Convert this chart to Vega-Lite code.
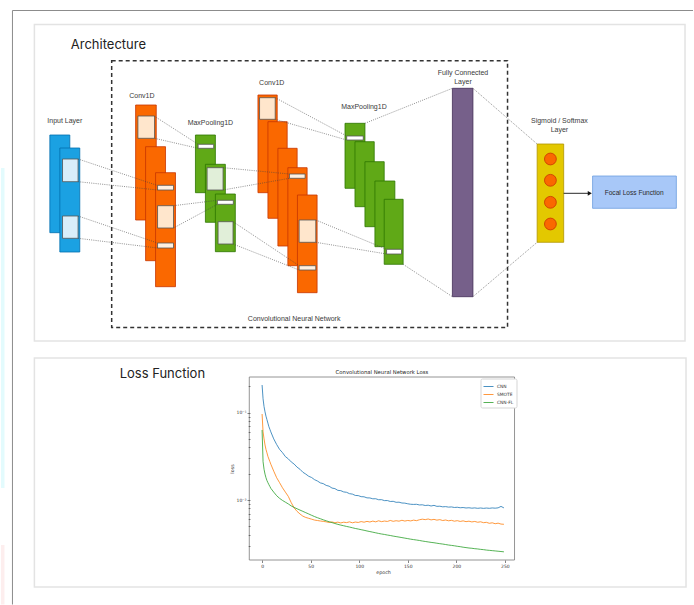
{
  "$schema": "https://vega.github.io/schema/vega-lite/v6.json",
  "width": 694,
  "height": 605,
  "autosize": {"type": "fit", "contains": "padding"},
  "padding": 0,
  "background": "white",
  "config": {"view": {"stroke": null}},
  "datasets": {
    "panels": [
      {"x": 33.5, "x2": 686, "y": 24.5, "y2": 341},
      {"x": 33.5, "x2": 687, "y": 358, "y2": 587}
    ],
    "cnnbox": [
      {"x": 111, "x2": 508, "y": 60.7, "y2": 327.5}
    ],
    "shapes": [
      {"k": "cyan", "x": 0, "x2": 3.5, "y": 168, "y2": 488},
      {"k": "pink", "x": 0, "x2": 3.5, "y": 545, "y2": 604.5},
      {"k": "input", "x": 49, "x2": 69, "y": 135, "y2": 232.7},
      {"k": "input", "x": 59, "x2": 79, "y": 148, "y2": 252},
      {"k": "inBox", "x": 61.7, "x2": 77.3, "y": 159, "y2": 181.7},
      {"k": "inBox", "x": 61.7, "x2": 77.3, "y": 216, "y2": 238.3},
      {"k": "conv", "x": 135, "x2": 155.7, "y": 105, "y2": 220},
      {"k": "convBox", "x": 137.3, "x2": 154, "y": 116, "y2": 138.3},
      {"k": "conv", "x": 145, "x2": 165, "y": 146.7, "y2": 260.7},
      {"k": "conv", "x": 155, "x2": 175, "y": 172.7, "y2": 286.7},
      {"k": "convSlot", "x": 157, "x2": 173, "y": 185.3, "y2": 190},
      {"k": "convBox", "x": 157, "x2": 173, "y": 205.7, "y2": 228},
      {"k": "convSlot", "x": 157, "x2": 173, "y": 243, "y2": 248},
      {"k": "pool", "x": 195, "x2": 215, "y": 135, "y2": 192.7},
      {"k": "poolSlot", "x": 197.7, "x2": 213.3, "y": 144.3, "y2": 148.3},
      {"k": "pool", "x": 205, "x2": 225, "y": 164.3, "y2": 222.3},
      {"k": "poolBox", "x": 206.7, "x2": 222.7, "y": 167.7, "y2": 190},
      {"k": "pool", "x": 215, "x2": 235, "y": 194, "y2": 251.7},
      {"k": "poolSlot", "x": 217, "x2": 233, "y": 200.3, "y2": 204.3},
      {"k": "poolBox", "x": 217.7, "x2": 232.7, "y": 221.7, "y2": 244},
      {"k": "conv", "x": 257.7, "x2": 277, "y": 95, "y2": 192.7},
      {"k": "convBox", "x": 259.3, "x2": 275, "y": 97.7, "y2": 119.3},
      {"k": "conv", "x": 267.7, "x2": 287, "y": 121.7, "y2": 218.3},
      {"k": "conv", "x": 277.7, "x2": 297, "y": 148.3, "y2": 246},
      {"k": "conv", "x": 287.7, "x2": 307, "y": 167.7, "y2": 265.7},
      {"k": "convSlot", "x": 289.3, "x2": 305, "y": 174, "y2": 178.3},
      {"k": "conv", "x": 297.3, "x2": 317, "y": 195, "y2": 292.7},
      {"k": "convBox", "x": 299, "x2": 315.7, "y": 220, "y2": 242.3},
      {"k": "convSlot", "x": 299, "x2": 315.7, "y": 265.7, "y2": 270},
      {"k": "pool", "x": 345, "x2": 365, "y": 123.3, "y2": 188.3},
      {"k": "poolSlot", "x": 346.7, "x2": 363.3, "y": 136, "y2": 140},
      {"k": "pool", "x": 355, "x2": 374.3, "y": 141.7, "y2": 206.7},
      {"k": "pool", "x": 365, "x2": 384.3, "y": 161.7, "y2": 226.7},
      {"k": "pool", "x": 375, "x2": 395, "y": 181, "y2": 246.7},
      {"k": "pool", "x": 384.3, "x2": 403.3, "y": 199.3, "y2": 264.3},
      {"k": "poolSlot", "x": 386.7, "x2": 401.7, "y": 249.3, "y2": 254},
      {"k": "fc", "x": 452.7, "x2": 473.3, "y": 88.3, "y2": 296.7},
      {"k": "sig", "x": 537.7, "x2": 564.3, "y": 144, "y2": 242.3},
      {"k": "focal", "x": 593.3, "x2": 677.3, "y": 176, "y2": 208.3},
      {"k": "frame", "x": 249, "x2": 515, "y": 377, "y2": 560}
    ],
    "links": [
      {"x": 77.3, "y": 159, "x2": 157, "y2": 185.5},
      {"x": 77.3, "y": 181.7, "x2": 157, "y2": 190},
      {"x": 77.3, "y": 216, "x2": 157, "y2": 243},
      {"x": 77.3, "y": 238.3, "x2": 157, "y2": 248},
      {"x": 154, "y": 116.3, "x2": 197.7, "y2": 144.3},
      {"x": 154, "y": 138.3, "x2": 197.7, "y2": 148.3},
      {"x": 173, "y": 205.7, "x2": 217, "y2": 200.3},
      {"x": 173, "y": 228, "x2": 217, "y2": 204.3},
      {"x": 222.7, "y": 167.7, "x2": 289.3, "y2": 174},
      {"x": 222.7, "y": 190, "x2": 289.3, "y2": 178.3},
      {"x": 232.7, "y": 221.7, "x2": 299, "y2": 265.7},
      {"x": 232.7, "y": 244, "x2": 299, "y2": 270},
      {"x": 275, "y": 97.7, "x2": 346.7, "y2": 136},
      {"x": 275, "y": 119.3, "x2": 346.7, "y2": 140},
      {"x": 315.7, "y": 220, "x2": 386.7, "y2": 249.3},
      {"x": 315.7, "y": 242.3, "x2": 386.7, "y2": 254},
      {"x": 365, "y": 123.3, "x2": 452.7, "y2": 88.3},
      {"x": 403.3, "y": 264.3, "x2": 452.7, "y2": 296.7},
      {"x": 473.3, "y": 88.3, "x2": 537.7, "y2": 144},
      {"x": 473.3, "y": 296.7, "x2": 537.7, "y2": 242.3}
    ],
    "arrow": [
      {"x": 564.3, "y": 193.3, "x2": 589.5, "y2": 193.3}
    ],
    "arrowhead": [
      {"x": 590.5, "y": 193.3}
    ],
    "dots": [
      {"x": 551, "y": 159},
      {"x": 551, "y": 180.3},
      {"x": 551, "y": 202.3},
      {"x": 551, "y": 224}
    ],
    "outer": [
      {"x": 11.5, "y": 10.5, "x2": 694, "y2": 10.5},
      {"x": 11.5, "y": 10.5, "x2": 11.5, "y2": 604.5}
    ],
    "texts": [
      {"x": 70, "y": 45, "text": "Architecture", "role": "h"},
      {"x": 119, "y": 374, "text": "Loss Function", "role": "h"},
      {"x": 64, "y": 120.7, "text": "Input Layer", "role": "l"},
      {"x": 141.3, "y": 96, "text": "Conv1D", "role": "l"},
      {"x": 210, "y": 123.3, "text": "MaxPooling1D", "role": "l"},
      {"x": 271.5, "y": 82.7, "text": "Conv1D", "role": "l"},
      {"x": 364, "y": 106.7, "text": "MaxPooling1D", "role": "l"},
      {"x": 463.3, "y": 72.7, "text": "Fully Connected", "role": "l"},
      {"x": 463.3, "y": 81.7, "text": "Layer", "role": "l"},
      {"x": 560, "y": 120.7, "text": "Sigmoid / Softmax", "role": "l"},
      {"x": 560, "y": 130, "text": "Layer", "role": "l"},
      {"x": 294, "y": 319, "text": "Convolutional Neural Network", "role": "l"},
      {"x": 635, "y": 192.7, "text": "Focal Loss Function", "role": "s"},
      {"x": 382, "y": 372, "text": "Convolutional Neural Network Loss", "role": "t"}
    ],
    "loss": [
      {"e": 0, "CNN": 0.2075, "SMOTE": 0.0966, "CNN-FL": 0.0634},
      {"e": 1, "CNN": 0.1445, "SMOTE": 0.0603, "CNN-FL": 0.0275},
      {"e": 2, "CNN": 0.1175, "SMOTE": 0.0501, "CNN-FL": 0.0225},
      {"e": 3, "CNN": 0.1023, "SMOTE": 0.0427, "CNN-FL": 0.0198},
      {"e": 4, "CNN": 0.0912, "SMOTE": 0.0380, "CNN-FL": 0.0180},
      {"e": 5, "CNN": 0.0832, "SMOTE": 0.0347, "CNN-FL": 0.0167},
      {"e": 6, "CNN": 0.0759, "SMOTE": 0.0316, "CNN-FL": 0.0158},
      {"e": 7, "CNN": 0.0692, "SMOTE": 0.0295, "CNN-FL": 0.0150},
      {"e": 8, "CNN": 0.0646, "SMOTE": 0.0275, "CNN-FL": 0.0143},
      {"e": 9, "CNN": 0.0603, "SMOTE": 0.0257, "CNN-FL": 0.0136},
      {"e": 12, "CNN": 0.0501, "SMOTE": 0.0214, "CNN-FL": 0.0123},
      {"e": 15, "CNN": 0.0432, "SMOTE": 0.0180, "CNN-FL": 0.0112},
      {"e": 18, "CNN": 0.0380, "SMOTE": 0.0158, "CNN-FL": 0.01045},
      {"e": 21, "CNN": 0.0349, "SMOTE": 0.0138, "CNN-FL": 0.00989},
      {"e": 24, "CNN": 0.0314, "SMOTE": 0.0123, "CNN-FL": 0.00944},
      {"e": 27, "CNN": 0.0296, "SMOTE": 0.0110, "CNN-FL": 0.00902},
      {"e": 30, "CNN": 0.0273, "SMOTE": 0.00933, "CNN-FL": 0.00855},
      {"e": 33, "CNN": 0.0258, "SMOTE": 0.00813, "CNN-FL": 0.00822},
      {"e": 36, "CNN": 0.0238, "SMOTE": 0.00741, "CNN-FL": 0.00794},
      {"e": 39, "CNN": 0.0225, "SMOTE": 0.00692, "CNN-FL": 0.00767},
      {"e": 42, "CNN": 0.0208, "SMOTE": 0.00653, "CNN-FL": 0.00741},
      {"e": 45, "CNN": 0.0198, "SMOTE": 0.00631, "CNN-FL": 0.00716},
      {"e": 48, "CNN": 0.0187, "SMOTE": 0.00617, "CNN-FL": 0.00692},
      {"e": 51, "CNN": 0.0181, "SMOTE": 0.00603, "CNN-FL": 0.00668},
      {"e": 54, "CNN": 0.0171, "SMOTE": 0.00589, "CNN-FL": 0.00646},
      {"e": 57, "CNN": 0.0165, "SMOTE": 0.00582, "CNN-FL": 0.00627},
      {"e": 60, "CNN": 0.0157, "SMOTE": 0.00575, "CNN-FL": 0.00610},
      {"e": 63, "CNN": 0.0154, "SMOTE": 0.00569, "CNN-FL": 0.00593},
      {"e": 66, "CNN": 0.0147, "SMOTE": 0.00562, "CNN-FL": 0.00578},
      {"e": 69, "CNN": 0.0144, "SMOTE": 0.00553, "CNN-FL": 0.00564},
      {"e": 72, "CNN": 0.0137, "SMOTE": 0.00561, "CNN-FL": 0.00551},
      {"e": 75, "CNN": 0.0135, "SMOTE": 0.00549, "CNN-FL": 0.00538},
      {"e": 78, "CNN": 0.0129, "SMOTE": 0.00558, "CNN-FL": 0.00526},
      {"e": 81, "CNN": 0.0128, "SMOTE": 0.00546, "CNN-FL": 0.00516},
      {"e": 84, "CNN": 0.01238, "SMOTE": 0.00557, "CNN-FL": 0.00507},
      {"e": 87, "CNN": 0.01225, "SMOTE": 0.00551, "CNN-FL": 0.00498},
      {"e": 90, "CNN": 0.01182, "SMOTE": 0.00562, "CNN-FL": 0.00490},
      {"e": 93, "CNN": 0.01168, "SMOTE": 0.00548, "CNN-FL": 0.00481},
      {"e": 96, "CNN": 0.01128, "SMOTE": 0.00559, "CNN-FL": 0.00472},
      {"e": 99, "CNN": 0.01123, "SMOTE": 0.00553, "CNN-FL": 0.00465},
      {"e": 102, "CNN": 0.01092, "SMOTE": 0.00566, "CNN-FL": 0.00457},
      {"e": 105, "CNN": 0.01088, "SMOTE": 0.00557, "CNN-FL": 0.00450},
      {"e": 108, "CNN": 0.01058, "SMOTE": 0.00569, "CNN-FL": 0.00442},
      {"e": 111, "CNN": 0.01056, "SMOTE": 0.00560, "CNN-FL": 0.00435},
      {"e": 114, "CNN": 0.01032, "SMOTE": 0.00573, "CNN-FL": 0.00428},
      {"e": 117, "CNN": 0.01034, "SMOTE": 0.00562, "CNN-FL": 0.00421},
      {"e": 120, "CNN": 0.01007, "SMOTE": 0.00578, "CNN-FL": 0.00414},
      {"e": 123, "CNN": 0.01009, "SMOTE": 0.00565, "CNN-FL": 0.00408},
      {"e": 126, "CNN": 0.00984, "SMOTE": 0.00574, "CNN-FL": 0.00403},
      {"e": 129, "CNN": 0.00986, "SMOTE": 0.00568, "CNN-FL": 0.00397},
      {"e": 132, "CNN": 0.00962, "SMOTE": 0.00583, "CNN-FL": 0.00392},
      {"e": 135, "CNN": 0.00966, "SMOTE": 0.00570, "CNN-FL": 0.00386},
      {"e": 138, "CNN": 0.00941, "SMOTE": 0.00579, "CNN-FL": 0.00381},
      {"e": 141, "CNN": 0.00944, "SMOTE": 0.00572, "CNN-FL": 0.00376},
      {"e": 144, "CNN": 0.00924, "SMOTE": 0.00586, "CNN-FL": 0.00371},
      {"e": 147, "CNN": 0.00921, "SMOTE": 0.00574, "CNN-FL": 0.00366},
      {"e": 150, "CNN": 0.00905, "SMOTE": 0.00583, "CNN-FL": 0.00361},
      {"e": 153, "CNN": 0.00894, "SMOTE": 0.00576, "CNN-FL": 0.00356},
      {"e": 156, "CNN": 0.00890, "SMOTE": 0.00588, "CNN-FL": 0.00352},
      {"e": 159, "CNN": 0.00893, "SMOTE": 0.00580, "CNN-FL": 0.00348},
      {"e": 162, "CNN": 0.00878, "SMOTE": 0.00594, "CNN-FL": 0.00344},
      {"e": 165, "CNN": 0.00881, "SMOTE": 0.00603, "CNN-FL": 0.00339},
      {"e": 168, "CNN": 0.00865, "SMOTE": 0.00596, "CNN-FL": 0.00335},
      {"e": 171, "CNN": 0.00872, "SMOTE": 0.00606, "CNN-FL": 0.00331},
      {"e": 174, "CNN": 0.00854, "SMOTE": 0.00592, "CNN-FL": 0.00327},
      {"e": 177, "CNN": 0.00868, "SMOTE": 0.00600, "CNN-FL": 0.00324},
      {"e": 180, "CNN": 0.00846, "SMOTE": 0.00588, "CNN-FL": 0.00320},
      {"e": 183, "CNN": 0.00849, "SMOTE": 0.00596, "CNN-FL": 0.00316},
      {"e": 186, "CNN": 0.00835, "SMOTE": 0.00582, "CNN-FL": 0.00313},
      {"e": 189, "CNN": 0.00840, "SMOTE": 0.00590, "CNN-FL": 0.00309},
      {"e": 192, "CNN": 0.00829, "SMOTE": 0.00578, "CNN-FL": 0.00305},
      {"e": 195, "CNN": 0.00833, "SMOTE": 0.00585, "CNN-FL": 0.00302},
      {"e": 198, "CNN": 0.00821, "SMOTE": 0.00572, "CNN-FL": 0.00299},
      {"e": 201, "CNN": 0.00826, "SMOTE": 0.00580, "CNN-FL": 0.00295},
      {"e": 204, "CNN": 0.00815, "SMOTE": 0.00568, "CNN-FL": 0.00292},
      {"e": 207, "CNN": 0.00820, "SMOTE": 0.00577, "CNN-FL": 0.00288},
      {"e": 210, "CNN": 0.00810, "SMOTE": 0.00565, "CNN-FL": 0.00285},
      {"e": 213, "CNN": 0.00815, "SMOTE": 0.00572, "CNN-FL": 0.00282},
      {"e": 216, "CNN": 0.00806, "SMOTE": 0.00561, "CNN-FL": 0.00280},
      {"e": 219, "CNN": 0.00812, "SMOTE": 0.00568, "CNN-FL": 0.00277},
      {"e": 222, "CNN": 0.00803, "SMOTE": 0.00556, "CNN-FL": 0.00275},
      {"e": 225, "CNN": 0.00810, "SMOTE": 0.00563, "CNN-FL": 0.00272},
      {"e": 228, "CNN": 0.00802, "SMOTE": 0.00550, "CNN-FL": 0.00270},
      {"e": 231, "CNN": 0.00809, "SMOTE": 0.00555, "CNN-FL": 0.00267},
      {"e": 234, "CNN": 0.00803, "SMOTE": 0.00541, "CNN-FL": 0.00265},
      {"e": 237, "CNN": 0.00811, "SMOTE": 0.00548, "CNN-FL": 0.00263},
      {"e": 240, "CNN": 0.00806, "SMOTE": 0.00535, "CNN-FL": 0.00261},
      {"e": 243, "CNN": 0.00813, "SMOTE": 0.00543, "CNN-FL": 0.00259},
      {"e": 246, "CNN": 0.00845, "SMOTE": 0.00530, "CNN-FL": 0.00257},
      {"e": 249, "CNN": 0.00812, "SMOTE": 0.00527, "CNN-FL": 0.00255}
    ]
  },
  "layer": [
    {
      "layer": [
        {
          "data": {"name": "panels"},
          "mark": {"type": "rect", "fill": "white", "stroke": "#e3e3e3", "strokeWidth": 1.5},
          "encoding": {
            "x": {"field": "x", "type": "quantitative", "scale": {"domain": [0, 694], "nice": false, "zero": false}, "axis": null},
            "x2": {"field": "x2"},
            "y": {"field": "y", "type": "quantitative", "scale": {"domain": [0, 605], "reverse": true, "nice": false, "zero": false}, "axis": null},
            "y2": {"field": "y2"}
          }
        },
        {
          "data": {"name": "cnnbox"},
          "mark": {"type": "rect", "fill": "transparent", "stroke": "#333333", "strokeWidth": 1.5, "strokeDash": [4, 3]},
          "encoding": {
            "x": {"field": "x", "type": "quantitative", "scale": {"domain": [0, 694], "nice": false, "zero": false}, "axis": null},
            "x2": {"field": "x2"},
            "y": {"field": "y", "type": "quantitative", "scale": {"domain": [0, 605], "reverse": true, "nice": false, "zero": false}, "axis": null},
            "y2": {"field": "y2"}
          }
        },
        {
          "data": {"name": "shapes"},
          "mark": {"type": "rect", "strokeWidth": 0.8},
          "encoding": {
            "x": {"field": "x", "type": "quantitative", "scale": {"domain": [0, 694], "nice": false, "zero": false}, "axis": null},
            "x2": {"field": "x2"},
            "y": {"field": "y", "type": "quantitative", "scale": {"domain": [0, 605], "reverse": true, "nice": false, "zero": false}, "axis": null},
            "y2": {"field": "y2"},
            "fill": {
              "field": "k", "type": "nominal", "legend": null,
              "scale": {
                "domain": ["cyan", "pink", "input", "inBox", "conv", "convBox", "convSlot", "pool", "poolBox", "poolSlot", "fc", "sig", "focal", "frame"],
                "range": ["#e3fbfd", "#fdeeee", "#1ba1e2", "#d8eefa", "#fa6800", "#ffe6cc", "#fff0e0", "#60a917", "#e1efd9", "#ffffff", "#76608a", "#e3c800", "#a8c8f8", "transparent"]
              }
            },
            "stroke": {
              "field": "k", "type": "nominal", "legend": null,
              "scale": {
                "domain": ["cyan", "pink", "input", "inBox", "conv", "convBox", "convSlot", "pool", "poolBox", "poolSlot", "fc", "sig", "focal", "frame"],
                "range": ["transparent", "transparent", "#006eaf", "#555555", "#c73500", "#555555", "#555555", "#2d7600", "#555555", "#555555", "#432d57", "#b09500", "#6c9ee0", "#7a7a7a"]
              }
            },
            "strokeDash": {
              "field": "k", "type": "nominal", "legend": null,
              "scale": {
                "domain": ["cyan", "pink", "input", "inBox", "conv", "convBox", "convSlot", "pool", "poolBox", "poolSlot", "fc", "sig", "focal", "frame"],
                "range": [[1, 0], [1, 0], [1, 0], [1.5, 1], [1, 0], [1.5, 1], [1.5, 1], [1, 0], [1.5, 1], [1.5, 1], [1, 0], [1, 0], [2, 1.5], [1, 0]]
              }
            }
          }
        },
        {
          "data": {"name": "links"},
          "mark": {"type": "rule", "stroke": "#444444", "strokeWidth": 0.7, "strokeDash": [1, 1.2], "opacity": 0.85},
          "encoding": {
            "x": {"field": "x", "type": "quantitative", "scale": {"domain": [0, 694], "nice": false, "zero": false}, "axis": null},
            "x2": {"field": "x2"},
            "y": {"field": "y", "type": "quantitative", "scale": {"domain": [0, 605], "reverse": true, "nice": false, "zero": false}, "axis": null},
            "y2": {"field": "y2"}
          }
        },
        {
          "data": {"name": "arrow"},
          "mark": {"type": "rule", "stroke": "#111111", "strokeWidth": 0.9},
          "encoding": {
            "x": {"field": "x", "type": "quantitative", "scale": {"domain": [0, 694], "nice": false, "zero": false}, "axis": null},
            "x2": {"field": "x2"},
            "y": {"field": "y", "type": "quantitative", "scale": {"domain": [0, 605], "reverse": true, "nice": false, "zero": false}, "axis": null},
            "y2": {"field": "y2"}
          }
        },
        {
          "data": {"name": "arrowhead"},
          "mark": {"type": "point", "shape": "triangle-right", "filled": true, "fill": "#111111", "size": 22, "opacity": 1},
          "encoding": {
            "x": {"field": "x", "type": "quantitative", "scale": {"domain": [0, 694], "nice": false, "zero": false}, "axis": null},
            "y": {"field": "y", "type": "quantitative", "scale": {"domain": [0, 605], "reverse": true, "nice": false, "zero": false}, "axis": null}
          }
        },
        {
          "data": {"name": "dots"},
          "mark": {"type": "point", "shape": "circle", "filled": true, "fill": "#fa6800", "stroke": "#c73500", "strokeWidth": 0.8, "size": 140, "opacity": 1},
          "encoding": {
            "x": {"field": "x", "type": "quantitative", "scale": {"domain": [0, 694], "nice": false, "zero": false}, "axis": null},
            "y": {"field": "y", "type": "quantitative", "scale": {"domain": [0, 605], "reverse": true, "nice": false, "zero": false}, "axis": null}
          }
        },
        {
          "data": {"name": "outer"},
          "mark": {"type": "rule", "stroke": "#8c8c8c", "strokeWidth": 1},
          "encoding": {
            "x": {"field": "x", "type": "quantitative", "scale": {"domain": [0, 694], "nice": false, "zero": false}, "axis": null},
            "x2": {"field": "x2"},
            "y": {"field": "y", "type": "quantitative", "scale": {"domain": [0, 605], "reverse": true, "nice": false, "zero": false}, "axis": null},
            "y2": {"field": "y2"}
          }
        },
        {
          "data": {"name": "texts"},
          "transform": [{"filter": "datum.role === 'h'"}],
          "mark": {"type": "text", "font": "Inter", "fontSize": 13, "fill": "#222222", "align": "left", "baseline": "middle"},
          "encoding": {
            "x": {"field": "x", "type": "quantitative", "scale": {"domain": [0, 694], "nice": false, "zero": false}, "axis": null},
            "y": {"field": "y", "type": "quantitative", "scale": {"domain": [0, 605], "reverse": true, "nice": false, "zero": false}, "axis": null},
            "text": {"field": "text"}
          }
        },
        {
          "data": {"name": "texts"},
          "transform": [{"filter": "datum.role === 'l'"}],
          "mark": {"type": "text", "font": "Liberation Sans", "fontSize": 7, "fill": "#3a3a3a", "align": "center", "baseline": "middle"},
          "encoding": {
            "x": {"field": "x", "type": "quantitative", "scale": {"domain": [0, 694], "nice": false, "zero": false}, "axis": null},
            "y": {"field": "y", "type": "quantitative", "scale": {"domain": [0, 605], "reverse": true, "nice": false, "zero": false}, "axis": null},
            "text": {"field": "text"}
          }
        },
        {
          "data": {"name": "texts"},
          "transform": [{"filter": "datum.role === 's'"}],
          "mark": {"type": "text", "font": "Liberation Sans", "fontSize": 6.6, "fill": "#2a2a2a", "align": "center", "baseline": "middle"},
          "encoding": {
            "x": {"field": "x", "type": "quantitative", "scale": {"domain": [0, 694], "nice": false, "zero": false}, "axis": null},
            "y": {"field": "y", "type": "quantitative", "scale": {"domain": [0, 605], "reverse": true, "nice": false, "zero": false}, "axis": null},
            "text": {"field": "text"}
          }
        },
        {
          "data": {"name": "texts"},
          "transform": [{"filter": "datum.role === 't'"}],
          "mark": {"type": "text", "font": "DejaVu Sans", "fontSize": 5.3, "fill": "#222222", "align": "center", "baseline": "middle"},
          "encoding": {
            "x": {"field": "x", "type": "quantitative", "scale": {"domain": [0, 694], "nice": false, "zero": false}, "axis": null},
            "y": {"field": "y", "type": "quantitative", "scale": {"domain": [0, 605], "reverse": true, "nice": false, "zero": false}, "axis": null},
            "text": {"field": "text"}
          }
        }
      ]
    },
    {
      "data": {"name": "loss"},
      "transform": [{"fold": ["CNN", "SMOTE", "CNN-FL"], "as": ["series", "val"]}],
      "mark": {"type": "line", "strokeWidth": 1, "opacity": 0.8},
      "encoding": {
        "x": {
          "field": "e", "type": "quantitative",
          "scale": {"domain": [-12.45, 261.45], "range": [249, 515], "nice": false, "zero": false},
          "axis": {
            "orient": "bottom", "offset": -45, "zindex": 2, "values": [0, 50, 100, 150, 200, 250],
            "grid": false, "domain": false, "tickSize": 2.5, "tickColor": "#333333", "tickWidth": 0.6,
            "labelFontSize": 4.5, "labelFont": "DejaVu Sans", "labelColor": "#333333", "labelPadding": 1, "labelFlush": false,
            "title": "epoch", "titleFontSize": 4.8, "titleFont": "DejaVu Sans", "titleFontWeight": "normal", "titleColor": "#333333", "titlePadding": 1.5
          }
        },
        "y": {
          "field": "val", "type": "quantitative",
          "scale": {"type": "log", "domain": [0.002055, 0.2564], "range": [560, 377], "nice": false},
          "axis": {
            "orient": "left", "offset": -249, "zindex": 2,
            "values": [0.003, 0.004, 0.005, 0.006, 0.007, 0.008, 0.009, 0.01, 0.02, 0.03, 0.04, 0.05, 0.06, 0.07, 0.08, 0.09, 0.1, 0.2],
            "labelExpr": "datum.value === 0.1 ? '10⁻¹' : (datum.value === 0.01 ? '10⁻²' : '')",
            "labelOverlap": false,
            "grid": false, "domain": false,
            "tickSize": {"condition": {"test": "datum.value === 0.1 || datum.value === 0.01", "value": 3}, "value": 1.8},
            "tickColor": "#333333", "tickWidth": 0.6,
            "labelFontSize": 4.5, "labelFont": "DejaVu Sans", "labelColor": "#333333", "labelPadding": 1,
            "title": "loss", "titleFontSize": 4.8, "titleFont": "DejaVu Sans", "titleFontWeight": "normal", "titleColor": "#333333", "titlePadding": 2
          }
        },
        "color": {
          "field": "series", "type": "nominal",
          "scale": {"domain": ["CNN", "SMOTE", "CNN-FL"], "range": ["#1f77b4", "#ff7f0e", "#2ca02c"]},
          "legend": {
            "title": null, "orient": "none", "legendX": 479.5, "legendY": 378.5,
            "symbolType": "stroke", "symbolSize": 100, "symbolStrokeWidth": 1,
            "labelFontSize": 4.4, "labelFont": "DejaVu Sans", "labelColor": "#333333", "labelOffset": 3,
            "padding": 2.5, "rowPadding": 0, "fillColor": "white", "strokeColor": "#d5d5d5", "cornerRadius": 1.5
          }
        }
      }
    }
  ],
  "resolve": {"scale": {"x": "independent", "y": "independent", "color": "independent"}}
}
